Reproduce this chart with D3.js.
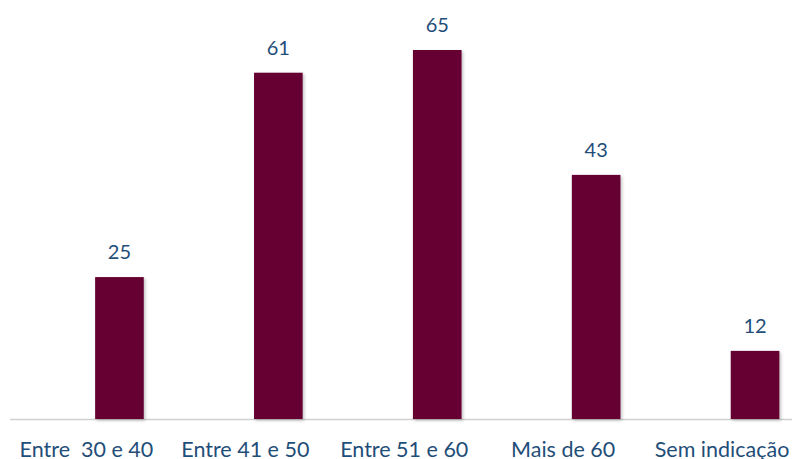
<!DOCTYPE html>
<html>
<head>
<meta charset="utf-8">
<script src="https://cdn.jsdelivr.net/npm/d3@7"></script>
<style>
  html, body { margin: 0; padding: 0; background: #fff; overflow: hidden; }
  text { font-family: Lato, "Open Sans", sans-serif; }
</style>
</head>
<body>
<svg width="792" height="459"></svg>
<script>
let categories = ["Entre  30 e 40", "Entre 41 e 50", "Entre 51 e 60", "Mais de 60", "Sem indicação"];
let values = [25, 61, 65, 43, 12];

let svg = d3.select("svg"),
    width = +svg.attr("width"),
    baseY = 419,
    topY = 50,
    labelOffset = -33;

let x = d3.scaleBand()
    .domain(categories)
    .range([40, 834.5])
    .paddingInner(0.694)
    .paddingOuter(0.347);

let y = d3.scaleLinear()
    .domain([0, 65])
    .range([baseY, topY]);

let defs = svg.append("defs");
let filter = defs.append("filter")
    .attr("id", "shadow")
    .attr("x", "-20%").attr("y", "-20%")
    .attr("width", "150%").attr("height", "150%");
filter.append("feDropShadow")
    .attr("dx", 1.5).attr("dy", 1.5)
    .attr("stdDeviation", 1.5)
    .attr("flood-color", "#000")
    .attr("flood-opacity", 0.25);

// axis line
svg.append("line")
    .attr("x1", 10)
    .attr("x2", width)
    .attr("y1", baseY + 0.5)
    .attr("y2", baseY + 0.5)
    .attr("stroke", "#d0d0d0")
    .attr("stroke-width", 1.5);

svg.selectAll(".bar")
    .data(values)
    .enter().append("rect")
    .attr("class", "bar")
    .attr("x", (d, i) => x(categories[i]))
    .attr("width", x.bandwidth())
    .attr("y", d => y(d))
    .attr("height", d => baseY - y(d))
    .attr("fill", "#660033")
    .attr("filter", "url(#shadow)");

svg.selectAll(".value")
    .data(values)
    .enter().append("text")
    .attr("class", "value")
    .attr("x", (d, i) => x(categories[i]) + x.bandwidth() / 2)
    .attr("y", d => y(d) - 18)
    .attr("text-anchor", "middle")
    .attr("fill", "#1F4E79")
    .attr("font-size", "20px")
    .text(d => d);

svg.selectAll(".cat")
    .data(categories)
    .enter().append("text")
    .attr("class", "cat")
    .attr("x", d => x(d) + x.bandwidth() / 2 + labelOffset)
    .attr("y", 457)
    .attr("text-anchor", "middle")
    .attr("fill", "#1F4E79")
    .attr("font-size", "21.5px")
    .style("white-space", "pre")
    .text(d => d);
</script>
</body>
</html>
